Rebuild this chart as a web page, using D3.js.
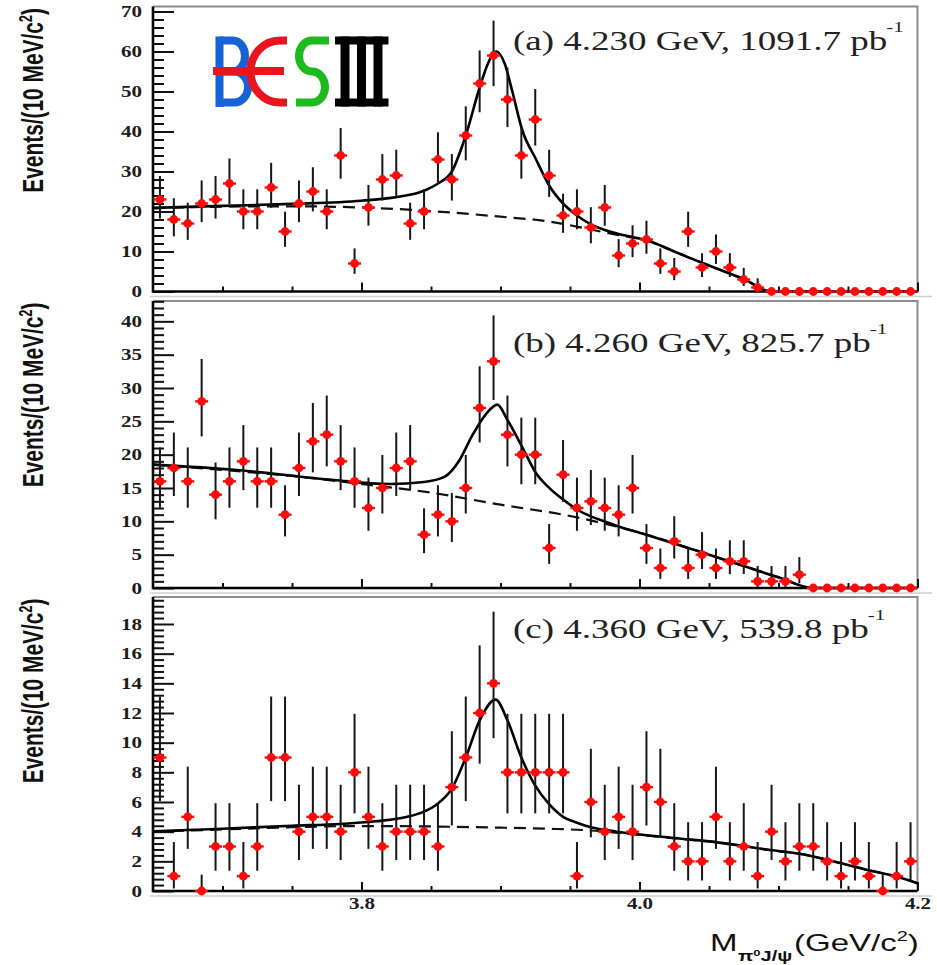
<!DOCTYPE html>
<meta charset="utf-8">
<style>
  body { margin: 0; background: #fff; }
  svg { display: block; }
</style>
<svg width="937" height="965"></svg>

<script src="https://cdn.jsdelivr.net/npm/d3@7"></script>
<script>

// 10 MeV bins between 3.65 and 4.20 GeV/c^2
var binCentres = [3.655, 3.665, 3.675, 3.685, 3.695, 3.705, 3.715, 3.725, 3.735, 3.745,
  3.755, 3.765, 3.775, 3.785, 3.795, 3.805, 3.815, 3.825, 3.835, 3.845,
  3.855, 3.865, 3.875, 3.885, 3.895, 3.905, 3.915, 3.925, 3.935, 3.945,
  3.955, 3.965, 3.975, 3.985, 3.995, 4.005, 4.015, 4.025, 4.035, 4.045,
  4.055, 4.065, 4.075, 4.085, 4.095, 4.105, 4.115, 4.125, 4.135, 4.145,
  4.155, 4.165, 4.175, 4.185, 4.195]

var countsA = [23, 18, 17, 22, 23, 27, 20, 20, 26, 15, 22, 25, 20, 34, 7, 21, 28, 29, 17, 20,
  33, 28, 39, 52, 59, 48, 34, 43, 29, 19, 20, 16, 21, 9, 12, 13, 7, 5, 15, 6,
  10, 6, 3, 1, 0, 0, 0, 0, 0, 0, 0, 0, 0, 0, 0]
var countsB = [16, 18, 16, 28, 14, 16, 19, 16, 16, 11, 18, 22, 23, 19, 16, 12, 15, 18, 19, 8,
  11, 10, 15, 27, 34, 23, 20, 20, 6, 17, 12, 13, 12, 11, 15, 6, 3, 7, 3, 5,
  3, 4, 4, 1, 1, 1, 2, 0, 0, 0, 0, 0, 0, 0, 0]
var countsC = [9, 1, 5, 0, 3, 3, 1, 3, 9, 9, 4, 5, 5, 4, 8, 5, 3, 4, 4, 4,
  3, 7, 9, 12, 14, 8, 8, 8, 8, 8, 1, 6, 4, 5, 4, 7, 6, 3, 2, 2,
  5, 2, 3, 1, 4, 2, 3, 3, 2, 1, 2, 1, 0, 1, 2]

// fit curves: [mass, events]
var totA = [[3.65, 20.9], [3.70, 21.4], [3.75, 21.9], [3.80, 22.7], [3.825, 23.6], [3.845, 25.2],
  [3.855, 27.0], [3.865, 30.0], [3.875, 39.0], [3.885, 51.0], [3.891, 57.0], [3.897, 60.0],
  [3.903, 57.0], [3.9085, 50.0], [3.9155, 40.5], [3.9256, 33.0], [3.935, 26.5], [3.945, 22.0],
  [3.955, 19.0], [3.965, 16.8], [3.975, 15.4], [3.985, 14.4], [3.995, 13.6], [4.005, 12.8],
  [4.015, 11.5], [4.025, 10.0], [4.05, 6.5], [4.075, 3.1], [4.095, 0], [4.20, 0]]
var bkgA = [[3.65, 20.8], [3.70, 21.2], [3.75, 21.3], [3.80, 21.0], [3.85, 20.1], [3.90, 18.7],
  [3.935, 17.5], [3.965, 15.5], [3.985, 14.1], [3.995, 13.5], [4.005, 12.8], [4.015, 11.5],
  [4.025, 10.0], [4.05, 6.5], [4.075, 3.1], [4.095, 0], [4.20, 0]]

var totB = [[3.65, 18.5], [3.71, 17.7], [3.78, 16.2], [3.82, 15.6], [3.845, 15.9], [3.86, 16.7],
  [3.87, 19.0], [3.88, 23.0], [3.89, 26.2], [3.8977, 27.5], [3.905, 25.2], [3.916, 21.0],
  [3.9256, 17.2], [3.9354, 14.95], [3.9455, 13.2], [3.9556, 11.7], [3.9654, 10.7],
  [3.9755, 9.95], [3.9855, 9.2], [4.00, 8.3], [4.05, 5.0], [4.10, 1.6], [4.125, 0], [4.20, 0]]
var bkgB = [[3.65, 18.5], [3.70, 17.7], [3.75, 16.8], [3.80, 15.6], [3.85, 14.3], [3.90, 12.5],
  [3.95, 10.8], [4.00, 8.3], [4.05, 5.0], [4.10, 1.6], [4.125, 0], [4.20, 0]]

var totC = [[3.65, 4.02], [3.70, 4.2], [3.75, 4.4], [3.785, 4.52], [3.81, 4.7], [3.833, 5.0],
  [3.845, 5.35], [3.855, 5.9], [3.865, 6.9], [3.875, 9.0], [3.885, 11.5], [3.8965, 12.9],
  [3.905, 11.5], [3.915, 9.0], [3.925, 7.1], [3.935, 5.85], [3.945, 5.0], [3.955, 4.6],
  [3.965, 4.3], [3.975, 4.12], [3.985, 3.98], [4.025, 3.57], [4.056, 3.28], [4.094, 2.76],
  [4.116, 2.5], [4.145, 1.87], [4.164, 1.42], [4.185, 0.97], [4.20, 0.52]]
var bkgC = [[3.65, 4.0], [3.70, 4.15], [3.75, 4.3], [3.80, 4.38], [3.85, 4.35], [3.90, 4.27],
  [3.94, 4.18], [3.965, 4.08], [3.985, 3.92], [4.025, 3.55], [4.056, 3.28], [4.094, 2.76],
  [4.116, 2.5], [4.145, 1.87], [4.164, 1.42], [4.185, 0.97], [4.20, 0.52]]

var panelLabels = ['(a) 4.230 GeV, 1091.7 pb', '(b) 4.260 GeV, 825.7 pb', '(c) 4.360 GeV, 539.8 pb']
var yTicksA = [0, 10, 20, 30, 40, 50, 60, 70]
var yTicksB = [0, 5, 10, 15, 20, 25, 30, 35, 40]
var yTicksC = [0, 2, 4, 6, 8, 10, 12, 14, 16, 18]
var xTicksMajor = [3.8, 4.0, 4.2]
var xTicksMinor = [3.70, 3.75, 3.85, 3.90, 3.95, 4.05, 4.10, 4.15]

var panels = [
  { counts: countsA, tot: totA, bkg: bkgA, label: panelLabels[0], ticks: yTicksA, minor: 2,
    yMax: 71.25, top: 6.5, bottom: 291.5, labelY: 50, zeroUp: 0, xLabels: false },
  { counts: countsB, tot: totB, bkg: bkgB, label: panelLabels[1], ticks: yTicksB, minor: 1,
    yMax: 43.05, top: 301, bottom: 588, labelY: 352, zeroUp: 0, xLabels: false },
  { counts: countsC, tot: totC, bkg: bkgC, label: panelLabels[2], ticks: yTicksC, minor: 0.4,
    yMax: 19.82, top: 597, bottom: 891, labelY: 638, zeroUp: 1.1, xLabels: true }
]

// 68% Poisson (Garwood) interval, like ROOT's kPoisson error option
function poisCdf(k, mu) {
  var term = Math.exp(-mu), sum = term
  for (var i = 1; i <= k; i++) { term *= mu / i; sum += term }
  return sum
}
// f must be positive below the root and negative above it
function solve(f, lo, hi) {
  for (var i = 0; i < 60; i++) {
    var mid = (lo + hi) / 2
    if (f(mid) > 0) lo = mid; else hi = mid
  }
  return (lo + hi) / 2
}
function garwood(n) {
  var a = 0.158655
  var up = solve(function (mu) { return poisCdf(n, mu) - a }, n, n + 10 * Math.sqrt(n + 1) + 10)
  var low = n === 0 ? 0 : solve(function (mu) { return poisCdf(n - 1, mu) - (1 - a) }, 0, n)
  return [low, up]
}

var svg = d3.select('svg')
var x = d3.scaleLinear().domain([3.65, 4.20]).range([153, 917.5])
var serif = '"Liberation Serif", "Times New Roman", serif'
var sans = '"Liberation Sans", Arial, sans-serif'

panels.forEach(function (p) {
  var y = d3.scaleLinear().domain([0, p.yMax]).range([p.bottom, p.top])
  var g = svg.append('g')

  // pad edge below the frame
  g.append('line')
    .attr('x1', 150).attr('x2', 932)
    .attr('y1', p.bottom + 5).attr('y2', p.bottom + 5)
    .attr('stroke', '#cfcfcf').attr('stroke-width', 1.5)

  // top and right of the frame are grey
  g.append('path')
    .attr('d', 'M' + x.range()[0] + ',' + p.top + 'H' + x.range()[1] + 'V' + p.bottom)
    .attr('fill', 'none').attr('stroke', '#8c8c8c').attr('stroke-width', 2)

  // y axis, ticks pointing inside
  var yMinor = d3.range(0, p.yMax, p.minor).filter(function (v) {
    return p.ticks.every(function (t) { return Math.abs(t - v) > 1e-6 })
  })
  g.append('g')
    .attr('transform', 'translate(' + x.range()[0] + ',0)')
    .call(d3.axisLeft(y).tickValues(yMinor).tickSize(-11).tickFormat(''))
    .call(function (a) { a.select('.domain').remove() })
    .selectAll('line').attr('stroke', '#111').attr('stroke-width', 2)
  var yAxis = g.append('g')
    .attr('transform', 'translate(' + x.range()[0] + ',0)')
    .call(d3.axisLeft(y).tickValues(p.ticks).tickSize(-21).tickPadding(11).tickFormat(d3.format('d')))
  yAxis.select('.domain').remove()
  yAxis.selectAll('line').attr('stroke', '#111').attr('stroke-width', 2)
  yAxis.attr('font-family', serif).attr('font-size', 21).attr('font-weight', 'bold')
  yAxis.selectAll('text').attr('fill', '#1c1c1c').attr('transform', 'scale(1,0.75)')

  // x axis, ticks pointing up
  g.append('g')
    .attr('transform', 'translate(0,' + p.bottom + ')')
    .call(d3.axisBottom(x).tickValues(xTicksMinor).tickSize(-5).tickFormat(''))
    .call(function (a) { a.select('.domain').remove() })
    .selectAll('line').attr('stroke', '#111').attr('stroke-width', 2)
  var xAxis = g.append('g')
    .attr('transform', 'translate(0,' + p.bottom + ')')
    .call(d3.axisBottom(x).tickValues(xTicksMajor).tickSize(-9).tickPadding(9)
      .tickFormat(p.xLabels ? d3.format('.1f') : ''))
  xAxis.select('.domain').remove()
  xAxis.selectAll('line').attr('stroke', '#111').attr('stroke-width', 2)
  xAxis.attr('font-family', serif).attr('font-size', 21).attr('font-weight', 'bold')
  xAxis.selectAll('text').attr('fill', '#1c1c1c').attr('transform', 'scale(1,0.75)')

  // left and bottom axis lines
  g.append('path')
    .attr('d', 'M' + x.range()[0] + ',' + p.top + 'V' + p.bottom + 'H' + x.range()[1])
    .attr('fill', 'none').attr('stroke', '#000').attr('stroke-width', 2.6)

  // fit curves
  var line = d3.line()
    .x(function (d) { return x(d[0]) })
    .y(function (d) { return y(d[1]) })
    .curve(d3.curveMonotoneX)
  g.append('path').datum(p.bkg).attr('d', line)
    .attr('fill', 'none').attr('stroke', '#111').attr('stroke-width', 2.2)
    .attr('stroke-dasharray', '12,7')
  g.append('path').datum(p.tot).attr('d', line)
    .attr('fill', 'none').attr('stroke', '#000').attr('stroke-width', 2.6)

  // data points
  var pts = binCentres.map(function (c, i) { return { m: c, n: p.counts[i] } })
  g.append('g').selectAll('line').data(pts.filter(function (d) { return d.n > 0 || p.zeroUp > 0 }))
    .enter().append('line')
    .attr('x1', function (d) { return x(d.m) })
    .attr('x2', function (d) { return x(d.m) })
    .attr('y1', function (d) { return y(d.n === 0 ? 0 : garwood(d.n)[0]) })
    .attr('y2', function (d) { return y(d.n === 0 ? p.zeroUp : garwood(d.n)[1]) })
    .attr('stroke', '#161616').attr('stroke-width', 2)
  var mk = g.append('g').selectAll('g').data(pts).enter().append('g')
    .attr('transform', function (d) { return 'translate(' + x(d.m) + ',' + y(d.n) + ')' })
  mk.append('line').attr('x1', -6.5).attr('x2', 6.5)
    .attr('stroke', '#ff0a0a').attr('stroke-width', 2.4)
  mk.append('circle').attr('r', 4.4).attr('fill', '#ff0a0a')

  // panel caption
  var cap = g.append('text')
    .attr('transform', 'translate(513,' + p.labelY + ') scale(1,0.74)')
    .attr('font-family', serif).attr('font-size', 37).attr('fill', '#222')
  cap.append('tspan').text(p.label)
  cap.append('tspan').attr('dx', -1).attr('dy', -24).attr('font-size', 21).text('-1')

  // y title
  var yt = g.append('text')
    .attr('transform', 'translate(43,' + (p.top + 1.5) + ') rotate(-90) scale(0.72,1)')
    .attr('text-anchor', 'end')
    .attr('font-family', sans).attr('font-size', 29).attr('font-weight', 'bold').attr('fill', '#111')
  yt.append('tspan').text('Events/(10 MeV/c')
  yt.append('tspan').attr('dy', -11).attr('font-size', 18).text('2')
  yt.append('tspan').attr('dy', 11).text(')')
})

// x title
var xt = svg.append('g').attr('fill', '#111').attr('font-family', sans)
xt.append('text').attr('transform', 'translate(710,951) scale(1,0.75)')
  .attr('font-size', 33).text('M')
var sub = xt.append('text').attr('transform', 'translate(738,961) scale(1,0.75)')
  .attr('font-size', 20).attr('font-weight', 'bold')
sub.append('tspan').text('\u03c0')
sub.append('tspan').attr('dy', -7).attr('font-size', 13).text('0')
sub.append('tspan').attr('dy', 7).text('J/\u03c8')
var unit = xt.append('text').attr('transform', 'translate(794,951) scale(1,0.75)')
  .attr('font-size', 33)
unit.append('tspan').text('(GeV/c')
unit.append('tspan').attr('dy', -14).attr('font-size', 20).text('2')
unit.append('tspan').attr('dy', 14).text(')')

// BESIII logo
var logo = svg.append('g').attr('fill', 'none').attr('stroke-linecap', 'butt')
logo.append('rect').attr('x', 215.5).attr('y', 36.5).attr('width', 8).attr('height', 70.5).attr('fill', '#1763d6')
logo.append('path').attr('d', 'M219.5,40.5H233A12,15.5 0 0 1 233,71.5H219.5')
  .attr('stroke', '#1763d6').attr('stroke-width', 8)
logo.append('path').attr('d', 'M219.5,71.5H234A14,15.5 0 0 1 234,102.5H219.5')
  .attr('stroke', '#1763d6').attr('stroke-width', 8)
logo.append('path').attr('d', 'M287,40.5H280A29.5,31 0 0 0 280,102.5H287')
  .attr('stroke', '#e8141e').attr('stroke-width', 8)
logo.append('line').attr('x1', 213).attr('x2', 284).attr('y1', 71).attr('y2', 71)
  .attr('stroke', '#e8141e').attr('stroke-width', 8)
logo.append('path').attr('d', 'M329,40.5H312A13,15.5 0 0 0 312,71.5A13,15.5 0 0 1 312,102.5H296')
  .attr('stroke', '#1dba1d').attr('stroke-width', 8)
var roman = logo.append('g').attr('fill', '#000')
roman.append('rect').attr('x', 335).attr('y', 36.5).attr('width', 53.5).attr('height', 8)
roman.append('rect').attr('x', 335).attr('y', 98.5).attr('width', 53.5).attr('height', 8)
roman.append('rect').attr('x', 340.5).attr('y', 36.5).attr('width', 9).attr('height', 70)
roman.append('rect').attr('x', 357).attr('y', 36.5).attr('width', 9).attr('height', 70)
roman.append('rect').attr('x', 373.5).attr('y', 36.5).attr('width', 9).attr('height', 70)
</script>
